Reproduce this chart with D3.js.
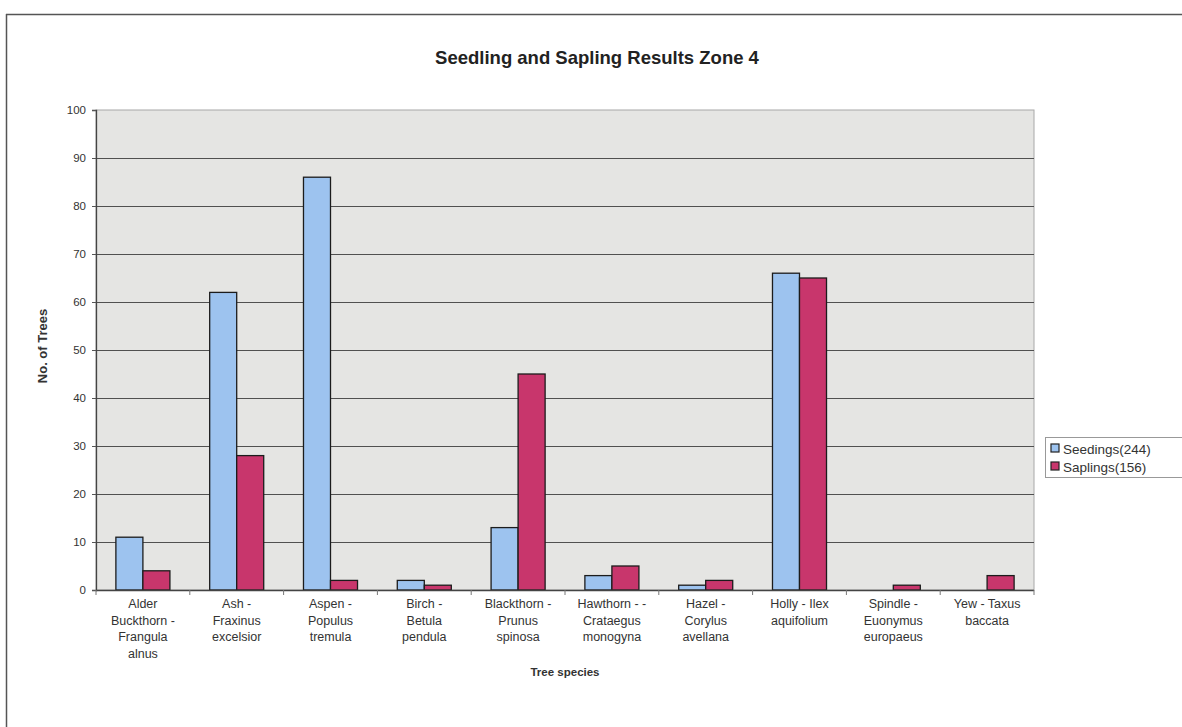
<!DOCTYPE html>
<html>
<head>
<meta charset="utf-8">
<script src="https://cdn.jsdelivr.net/npm/d3@7"></script>
<style>
  html, body { margin: 0; padding: 0; background: #fff; }
  svg { display: block; font-family: "Liberation Sans", Arial, sans-serif; }
</style>
</head>
<body>
<svg id="chart" width="1182" height="727"></svg>
<script>
// Tree species (each label split over lines as printed under the axis)
const categories = [
  ["Alder", "Buckthorn -", "Frangula", "alnus"],
  ["Ash -", "Fraxinus", "excelsior"],
  ["Aspen -", "Populus", "tremula"],
  ["Birch -", "Betula", "pendula"],
  ["Blackthorn -", "Prunus", "spinosa"],
  ["Hawthorn - -", "Crataegus", "monogyna"],
  ["Hazel -", "Corylus", "avellana"],
  ["Holly - Ilex", "aquifolium"],
  ["Spindle -", "Euonymus", "europaeus"],
  ["Yew - Taxus", "baccata"]
];
const seriesNames = ["Seedings(244)", "Saplings(156)"];
const seedlings = [11, 62, 86, 2, 13, 3, 1, 66, 0, 0];
const saplings  = [4, 28, 2, 1, 45, 5, 2, 65, 1, 3];
const yTicks = [0, 10, 20, 30, 40, 50, 60, 70, 80, 90, 100];

const colors = ["#9dc3ef", "#c8366c"];
const series = [seedlings, saplings];

const svg = d3.select("#chart");
const plot = { left: 96, right: 1034, top: 110, bottom: 590 };

// outer chart frame (left and top edges)
svg.append("line").attr("x1", 6.5).attr("x2", 6.5).attr("y1", 14).attr("y2", 727)
  .attr("stroke", "#555").attr("stroke-width", 1.5);
svg.append("line").attr("x1", 6).attr("x2", 1182).attr("y1", 14.5).attr("y2", 14.5)
  .attr("stroke", "#555").attr("stroke-width", 1.5);

const x = d3.scaleBand()
  .domain(d3.range(categories.length))
  .range([plot.left, plot.right])
  .paddingInner(0.424)
  .paddingOuter(0.212);
const xs = d3.scaleBand().domain(d3.range(series.length)).range([0, x.bandwidth()]);
const y = d3.scaleLinear().domain([0, 100]).range([plot.bottom, plot.top]);

// plot background
svg.append("rect")
  .attr("x", plot.left).attr("y", plot.top)
  .attr("width", plot.right - plot.left).attr("height", plot.bottom - plot.top)
  .attr("fill", "#e5e5e3").attr("stroke", "#a8a8a8").attr("stroke-width", 1);

// gridlines
svg.append("g").selectAll("line")
  .data(yTicks.filter(t => t > 0 && t < 100))
  .join("line")
  .attr("x1", plot.left).attr("x2", plot.right)
  .attr("y1", d => Math.round(y(d)) + 0.5).attr("y2", d => Math.round(y(d)) + 0.5)
  .attr("stroke", "#505050").attr("stroke-width", 1);

// bars
const groups = svg.append("g").selectAll("g")
  .data(categories.map((c, i) => i))
  .join("g")
  .attr("transform", i => `translate(${x(i)},0)`);
groups.selectAll("rect")
  .data(i => series.map((s, k) => ({ k, v: s[i] })).filter(d => d.v > 0))
  .join("rect")
  .attr("x", d => xs(d.k))
  .attr("width", xs.bandwidth())
  .attr("y", d => y(d.v))
  .attr("height", d => y(0) - y(d.v))
  .attr("fill", d => colors[d.k])
  .attr("stroke", "#1c1c1c").attr("stroke-width", 1.3);

// y axis
const yAxis = d3.axisLeft(y).tickValues(yTicks).tickSize(4).tickPadding(6);
const ya = svg.append("g").attr("transform", `translate(${plot.left},0)`).call(yAxis);
ya.select(".domain").attr("stroke", "#444").attr("stroke-width", 1.3);
ya.selectAll(".tick line").attr("stroke", "#555");
ya.selectAll(".tick text").attr("font-size", 11.5).attr("fill", "#333")
  .attr("font-family", "Liberation Sans, Arial, sans-serif");

// x axis baseline and category boundary ticks
svg.append("line").attr("x1", plot.left).attr("x2", plot.right)
  .attr("y1", plot.bottom + 0.5).attr("y2", plot.bottom + 0.5)
  .attr("stroke", "#444").attr("stroke-width", 1.3);
const step = x.step();
svg.append("g").selectAll("line")
  .data(d3.range(categories.length + 1))
  .join("line")
  .attr("x1", i => plot.left + i * step).attr("x2", i => plot.left + i * step)
  .attr("y1", plot.bottom).attr("y2", plot.bottom + 5)
  .attr("stroke", "#777").attr("stroke-width", 1);

// category labels
const labels = svg.append("g").selectAll("text")
  .data(categories)
  .join("text")
  .attr("text-anchor", "middle")
  .attr("font-size", 12.5)
  .attr("fill", "#333")
  .attr("transform", (c, i) => `translate(${x(i) + x.bandwidth() / 2},608)`);
labels.selectAll("tspan")
  .data(c => c)
  .join("tspan")
  .attr("x", 0)
  .attr("y", (d, j) => j * 16.5)
  .text(d => d);

// titles
svg.append("text")
  .attr("x", 597).attr("y", 64)
  .attr("text-anchor", "middle")
  .attr("font-size", 18.5).attr("font-weight", "bold").attr("fill", "#222")
  .text("Seedling and Sapling Results Zone 4");
svg.append("text")
  .attr("x", (plot.left + plot.right) / 2).attr("y", 676)
  .attr("text-anchor", "middle")
  .attr("font-size", 11.5).attr("font-weight", "bold").attr("fill", "#333")
  .text("Tree species");
svg.append("text")
  .attr("transform", `translate(47,${(plot.top + plot.bottom) / 2 - 4}) rotate(-90)`)
  .attr("text-anchor", "middle")
  .attr("font-size", 13).attr("font-weight", "bold").attr("fill", "#333")
  .text("No. of Trees");

// legend
const lg = svg.append("g").attr("transform", "translate(1045,437)");
lg.append("rect").attr("x", 0.5).attr("y", 0.5).attr("width", 145).attr("height", 40)
  .attr("fill", "#fff").attr("stroke", "#999");
const items = lg.selectAll("g.item").data(seriesNames).join("g")
  .attr("class", "item")
  .attr("transform", (d, i) => `translate(6,${6 + i * 18})`);
items.append("rect").attr("width", 8).attr("height", 8).attr("y", 1)
  .attr("fill", (d, i) => colors[i]).attr("stroke", "#222").attr("stroke-width", 1.2);
items.append("text").attr("x", 12).attr("y", 10.5)
  .attr("font-size", 13.5).attr("fill", "#333")
  .text(d => d);
</script>
</body>
</html>
